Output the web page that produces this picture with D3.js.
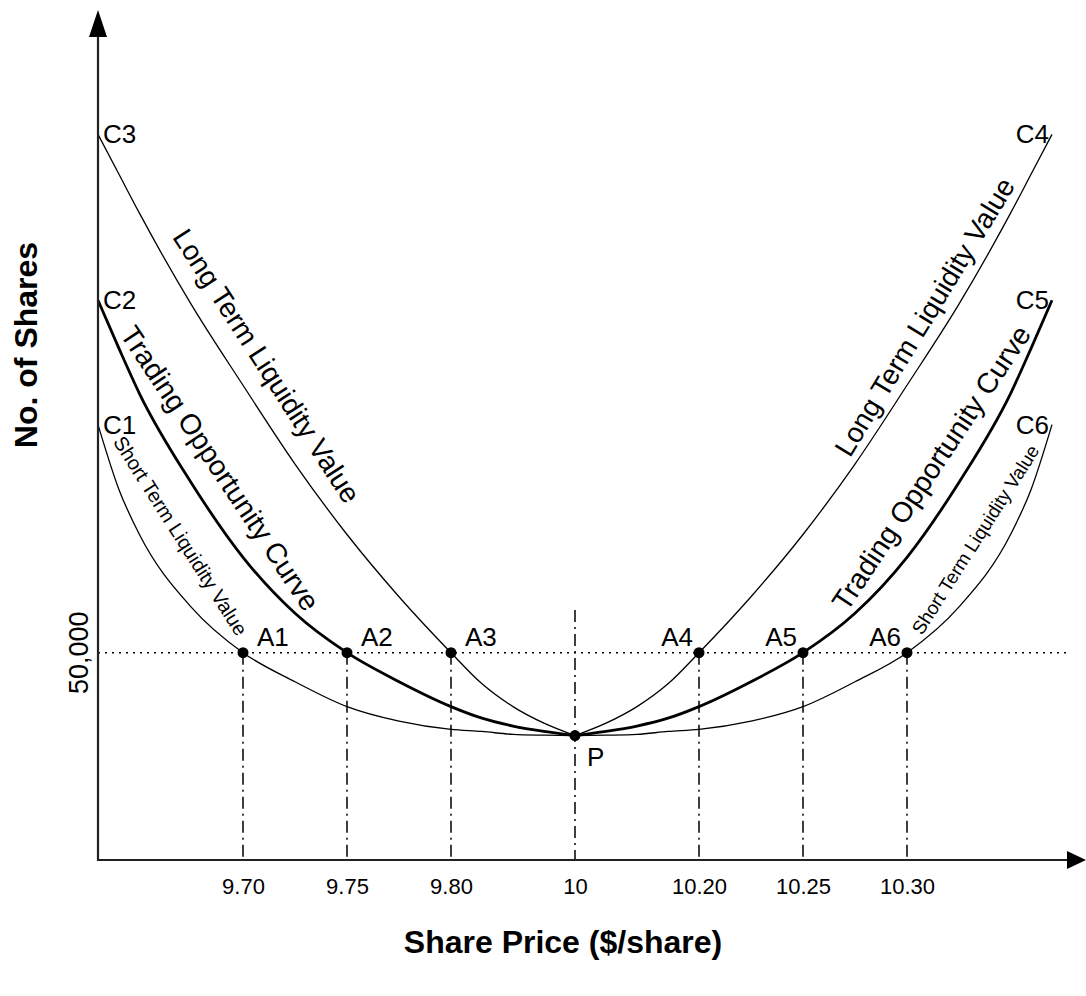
<!DOCTYPE html>
<html>
<head>
    <title>Share Price vs No. of Shares</title>
    <script src="https://d3js.org/d3.v7.min.js"></script>
    <style>
        body { margin: 0; background: #fff; }
        svg { font-family: "Liberation Sans", Arial, sans-serif; }
    </style>
</head>
<body>
    <svg width="1086" height="996"></svg>
    <script>
        // price samples along the curves (schematic axis)
        const prices = [9.63, 9.64, 9.65, 9.675, 9.70, 9.725, 9.75, 9.775, 9.80, 9.85, 9.90, 9.95, 10,
                        10.05, 10.10, 10.15, 10.20, 10.225, 10.25, 10.275, 10.30, 10.325, 10.35, 10.36, 10.37];

        // no. of shares for each curve at those prices
        const longTerm = [175000, 165500, 156000, 134000, 114500, 95500, 78500, 63500, 50000, 42500, 37000, 33000, 30000,
                          33000, 37000, 42500, 50000, 63500, 78500, 95500, 114500, 134000, 156000, 165500, 175000];
        const trading  = [135000, 123500, 112500, 91000, 73000, 59500, 50000, 43000, 37000, 34200, 32300, 31000, 30000,
                          31000, 32300, 34200, 37000, 43000, 50000, 59500, 73000, 91000, 112500, 123500, 135000];
        const shortTerm = [105000, 89500, 78500, 61000, 50000, 43000, 37000, 33500, 31500, 31000, 30300, 30100, 30000,
                           30100, 30300, 31000, 31500, 33500, 37000, 43000, 50000, 61000, 78500, 89500, 105000];

        const tickPrices = [9.70, 9.75, 9.80, 10, 10.20, 10.25, 10.30];
        const aPrices = [9.70, 9.75, 9.80, 10.20, 10.25, 10.30];
        const aNames = ["A1", "A2", "A3", "A4", "A5", "A6"];
        const refShares = 50000;
        const pPoint = {price: 10, shares: 30000};

        // axis is not to scale, so the x scale is piecewise
        const x = d3.scaleLinear()
            .domain([9.63, 9.70, 9.75, 9.80, 10, 10.20, 10.25, 10.30, 10.37])
            .range([98, 243, 347, 451, 575, 699, 803, 907, 1052]);
        const y = d3.scaleLinear().domain([0, 205000]).range([860, 10]);

        const svg = d3.select("svg");
        const x0 = x(9.63), y0 = y(0);

        // reference lines
        svg.append("line")
            .attr("x1", x0).attr("x2", 1067)
            .attr("y1", y(refShares)).attr("y2", y(refShares))
            .attr("stroke", "#000").attr("stroke-width", 1.6)
            .attr("stroke-dasharray", "2,5");

        svg.selectAll(".vline")
            .data(aPrices)
            .enter().append("line")
            .attr("class", "vline")
            .attr("x1", d => x(d)).attr("x2", d => x(d))
            .attr("y1", y(refShares)).attr("y2", y0)
            .attr("stroke", "#000").attr("stroke-width", 1.5)
            .attr("stroke-dasharray", "12,5,2,5");

        svg.append("line")
            .attr("x1", x(pPoint.price)).attr("x2", x(pPoint.price))
            .attr("y1", 610).attr("y2", y0)
            .attr("stroke", "#000").attr("stroke-width", 1.5)
            .attr("stroke-dasharray", "12,5,2,5");

        // curves, each drawn as two branches meeting at P
        const line = d3.line()
            .x(d => x(d[0]))
            .y(d => y(d[1]))
            .curve(d3.curveMonotoneX);

        // label placement: chord between two sample prices, then pushed off the curve
        const curves = [
            {vals: longTerm, width: 1.3, size: 28, text: "Long Term Liquidity Value",
             labels: [{ps: 9.65, pe: 9.75, off: 24, slide: 6, size: 28}, {ps: 10.275, pe: 10.36, off: 17, slide: -8, size: 28}]},
            {vals: trading, width: 2.8, size: 28.5, text: "Trading Opportunity Curve",
             labels: [{ps: 9.64, pe: 9.725, off: 18, slide: -3, size: 28.5}, {ps: 10.275, pe: 10.36, off: 17, slide: 4, size: 28.5}]},
            {vals: shortTerm, width: 1.3, size: 20, text: "Short Term Liquidity Value",
             labels: [{ps: 9.63, pe: 9.70, off: 10, slide: 3, size: 20}, {ps: 10.30, pe: 10.37, off: 3, slide: -3, size: 19}]}
        ];

        curves.forEach(c => {
            const pts = prices.map((p, i) => [p, c.vals[i]]);
            [pts.slice(0, 13), pts.slice(12)].forEach(branch => {
                svg.append("path")
                    .attr("d", line(branch))
                    .attr("fill", "none").attr("stroke", "#000").attr("stroke-width", c.width);
            });

            c.labels.forEach(l => {
                const i1 = prices.indexOf(l.ps), i2 = prices.indexOf(l.pe);
                const ax = x(prices[i1]), ay = y(c.vals[i1]);
                const bx = x(prices[i2]), by = y(c.vals[i2]);
                const dx = bx - ax, dy = by - ay, len = Math.hypot(dx, dy);
                const ux = dx / len, uy = dy / len;
                const nx = uy, ny = -ux;
                const cx = (ax + bx) / 2 + nx * l.off + ux * l.slide;
                const cy = (ay + by) / 2 + ny * l.off + uy * l.slide;
                const ang = Math.atan2(dy, dx) * 180 / Math.PI;
                svg.append("text")
                    .attr("transform", `translate(${cx},${cy}) rotate(${ang})`)
                    .attr("text-anchor", "middle")
                    .attr("dy", "0.35em")
                    .style("font-size", l.size + "px")
                    .text(c.text);
            });
        });

        // end labels C1..C6
        const ends = [
            {name: "C1", price: prices[0], shares: shortTerm[0], side: "L"},
            {name: "C2", price: prices[0], shares: trading[0], side: "L"},
            {name: "C3", price: prices[0], shares: longTerm[0], side: "L"},
            {name: "C4", price: prices[24], shares: longTerm[24], side: "R"},
            {name: "C5", price: prices[24], shares: trading[24], side: "R"},
            {name: "C6", price: prices[24], shares: shortTerm[24], side: "R"}
        ];
        svg.selectAll(".cl")
            .data(ends)
            .enter().append("text")
            .attr("class", "cl")
            .attr("x", d => x(d.price) + (d.side === "L" ? 5 : -3))
            .attr("y", d => y(d.shares) + 9)
            .attr("text-anchor", d => d.side === "L" ? "start" : "end")
            .style("font-size", "26px")
            .text(d => d.name);

        // intersection points
        svg.selectAll(".apt")
            .data(aPrices)
            .enter().append("circle")
            .attr("class", "apt")
            .attr("cx", d => x(d)).attr("cy", y(refShares))
            .attr("r", 5.5).attr("fill", "#000");

        svg.selectAll(".alab")
            .data(aPrices)
            .enter().append("text")
            .attr("class", "alab")
            .attr("x", (d, i) => i < 3 ? x(d) + 14 : x(d) - 6)
            .attr("y", y(refShares) - 7)
            .attr("text-anchor", (d, i) => i < 3 ? "start" : "end")
            .style("font-size", "26px")
            .text((d, i) => aNames[i]);

        svg.append("circle")
            .attr("cx", x(pPoint.price)).attr("cy", y(pPoint.shares))
            .attr("r", 5.5).attr("fill", "#000");
        svg.append("text")
            .attr("x", x(pPoint.price) + 12)
            .attr("y", y(pPoint.shares) + 30)
            .style("font-size", "26px")
            .text("P");

        // axes with arrows
        svg.append("line")
            .attr("x1", x0).attr("x2", x0)
            .attr("y1", y0 + 1).attr("y2", 34)
            .attr("stroke", "#222").attr("stroke-width", 2.2);
        svg.append("path")
            .attr("d", `M${x0},${y.range()[1]} L${x0 - 9},37 L${x0 + 9},37 Z`)
            .attr("fill", "#000");

        svg.append("line")
            .attr("x1", x0 - 1).attr("x2", 1070)
            .attr("y1", y0).attr("y2", y0)
            .attr("stroke", "#222").attr("stroke-width", 2.2);
        svg.append("path")
            .attr("d", `M1086,${y0} L1067,${y0 - 9} L1067,${y0 + 9} Z`)
            .attr("fill", "#000");

        const xAxis = svg.append("g")
            .attr("transform", "translate(0," + y0 + ")")
            .call(d3.axisBottom(x)
                .tickValues(tickPrices)
                .tickSize(0)
                .tickPadding(18)
                .tickFormat(d => d === 10 ? "10" : d.toFixed(2)));
        xAxis.select(".domain").remove();
        xAxis.selectAll("text")
            .attr("fill", "#000")
            .style("font-size", "22px")
            .style("font-family", "Liberation Sans, Arial, sans-serif");

        // 50,000 tick label
        svg.append("text")
            .attr("transform", "translate(88," + y(refShares) + ") rotate(-90)")
            .attr("text-anchor", "middle")
            .style("font-size", "27px")
            .text("50,000");

        // axis titles
        svg.append("text")
            .attr("x", 563).attr("y", 953)
            .attr("text-anchor", "middle")
            .style("font-size", "32px").style("font-weight", "bold")
            .text("Share Price ($/share)");

        svg.append("text")
            .attr("transform", "translate(37,345) rotate(-90)")
            .attr("text-anchor", "middle")
            .style("font-size", "32px").style("font-weight", "bold")
            .text("No. of Shares");
    </script>
</body>
</html>
